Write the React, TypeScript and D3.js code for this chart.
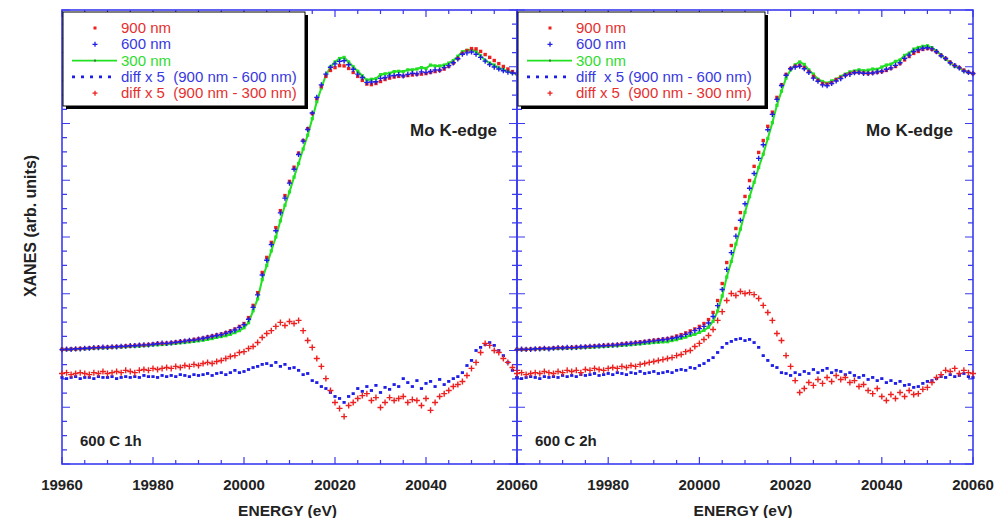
import React from "react";
import * as d3 from "d3";

// energy grid (eV), one point per eV
const energy = d3.range(19960, 20061, 1);

const xTicksMajor = [19960, 19980, 20000, 20020, 20040, 20060];

// ---- panel 1 : 600 C 1h ----
const mu900A = [
  0.4, 0.4, 0.5, 0.5, 0.7, 0.7, 0.9, 0.9, 1.1, 1.1,
  1.2, 1.2, 1.4, 1.4, 1.6, 1.6, 1.8, 1.9, 1.9, 2.1,
  2.3, 2.5, 2.5, 2.6, 2.8, 3.0, 3.2, 3.4, 3.5, 3.9,
  4.1, 4.4, 4.8, 5.1, 5.5, 5.8, 6.3, 6.9, 7.6, 8.5,
  9.5, 11.6, 15.9, 20.4, 27.5, 32.8, 38.1, 43.3, 49.3, 54.6,
  59.6, 64.6, 69.6, 74.0, 78.2, 83.5, 88.8, 93.0, 96.6, 98.7,
  99.7, 100.4, 100.3, 99.4, 98.0, 96.6, 95.2, 93.9, 93.7, 94.1,
  94.8, 95.5, 96.0, 96.4, 96.6, 96.7, 96.9, 97.1, 97.3, 97.4,
  97.6, 98.0, 98.3, 98.7, 99.2, 100.1, 101.3, 102.9, 104.7, 105.7,
  106.4, 106.3, 105.4, 104.3, 103.3, 102.2, 101.1, 100.1, 99.2, 98.3,
  97.6,
];
const mu600A = [
  0.3, 0.5, 0.4, 0.6, 0.6, 0.8, 0.8, 1.0, 1.0, 1.2,
  1.1, 1.3, 1.3, 1.5, 1.5, 1.7, 1.7, 1.9, 2.0, 2.0,
  2.2, 2.4, 2.6, 2.5, 2.7, 2.9, 3.1, 3.3, 3.6, 3.7,
  4.0, 4.3, 4.6, 5.0, 5.3, 5.6, 6.1, 6.6, 7.2, 8.1,
  9.1, 11.0, 15.2, 19.6, 26.6, 31.8, 37.3, 42.2, 48.5, 53.7,
  59.0, 63.9, 69.1, 73.8, 77.9, 83.7, 89.2, 93.6, 97.4, 99.8,
  101.0, 101.9, 102.1, 100.7, 99.1, 97.4, 96.2, 94.5, 94.6, 94.7,
  95.9, 96.2, 96.8, 96.9, 97.2, 96.8, 97.3, 97.7, 97.5, 98.2,
  98.0, 98.3, 98.9, 98.8, 99.7, 100.4, 101.4, 102.8, 104.4, 104.9,
  105.2, 104.4, 103.3, 102.0, 100.8, 99.9, 99.2, 98.6, 98.1, 97.8,
  97.6,
];
const mu300A = [
  0.4, 0.3, 0.5, 0.4, 0.6, 0.6, 0.7, 0.8, 0.9, 0.9,
  1.0, 1.1, 1.2, 1.2, 1.3, 1.4, 1.5, 1.5, 1.7, 1.8,
  1.9, 2.0, 2.1, 2.2, 2.4, 2.5, 2.7, 2.8, 3.0, 3.2,
  3.4, 3.6, 3.9, 4.2, 4.6, 4.9, 5.2, 5.7, 6.3, 7.0,
  8.0, 9.8, 14.0, 18.2, 25.0, 30.0, 35.1, 40.0, 45.7, 51.2,
  55.9, 61.1, 65.9, 71.0, 75.9, 81.7, 87.7, 92.5, 97.0, 99.9,
  101.7, 102.9, 103.3, 101.7, 100.0, 98.4, 96.8, 95.3, 95.6, 95.8,
  97.2, 97.5, 97.7, 98.3, 98.4, 98.3, 98.9, 98.9, 99.2, 99.7,
  99.4, 100.6, 100.3, 100.3, 100.6, 101.3, 102.2, 103.7, 105.3, 105.8,
  106.0, 105.5, 103.9, 102.2, 101.3, 100.6, 99.6, 99.0, 98.4, 97.9,
  97.4,
];
const diff600A = [
  -9.5, -9.9, -9.5, -9.2, -9.9, -9.5, -9.5, -9.9, -9.2, -9.5,
  -9.5, -9.2, -9.9, -9.5, -9.2, -9.5, -9.2, -9.5, -8.8, -9.2,
  -9.2, -9.5, -8.8, -9.2, -8.8, -9.2, -8.5, -8.8, -9.2, -8.5,
  -8.8, -8.5, -8.1, -8.8, -8.1, -7.8, -8.5, -7.8, -7.0, -7.8,
  -7.4, -6.7, -6.0, -5.6, -4.9, -4.6, -5.3, -4.2, -5.6, -4.9,
  -6.3, -6.0, -7.0, -8.5, -8.1, -10.6, -11.3, -12.7, -13.4, -14.8,
  -16.2, -16.9, -18.3, -16.2, -15.2, -13.4, -14.4, -12.7, -14.1, -12.3,
  -14.8, -13.0, -13.7, -12.0, -12.7, -9.9, -11.3, -12.7, -10.6, -13.4,
  -11.6, -10.9, -12.7, -10.2, -12.0, -10.9, -9.9, -9.2, -7.8, -5.3,
  -3.5, 0.0, 1.1, 2.1, 2.8, 1.8, 0.0, -1.8, -4.2, -7.0,
  -9.5,
];
const diff300A = [
  -8.1, -7.8, -8.5, -8.1, -7.8, -8.1, -8.5, -7.8, -8.1, -7.4,
  -8.1, -7.8, -7.4, -7.8, -7.0, -7.4, -7.8, -7.0, -6.7, -7.0,
  -6.3, -6.7, -6.3, -6.0, -6.3, -5.6, -6.0, -5.3, -5.6, -4.9,
  -5.3, -4.6, -4.2, -4.6, -3.9, -3.5, -2.8, -2.1, -1.8, -0.7,
  -0.4, 0.7, 1.4, 2.8, 4.6, 6.0, 7.0, 8.5, 9.9, 8.8,
  10.2, 9.5, 10.6, 7.0, 3.5, 1.1, -2.8, -5.6, -9.9, -14.1,
  -18.3, -20.4, -23.3, -19.4, -18.3, -16.9, -15.9, -15.2, -17.6, -16.6,
  -20.1, -18.3, -16.6, -17.6, -16.9, -16.2, -18.3, -17.3, -17.6, -19.4,
  -16.9, -21.1, -18.3, -16.2, -15.2, -14.1, -12.7, -12.0, -10.9, -8.8,
  -6.3, -4.2, -0.7, 2.5, 1.8, 0.0, -0.7, -2.8, -4.2, -6.0,
  -7.0,
];

// ---- panel 2 : 600 C 2h ----
const mu900B = [
  0.4, 0.4, 0.4, 0.5, 0.5, 0.7, 0.7, 0.7, 0.9, 0.9,
  1.0, 1.0, 1.1, 1.2, 1.2, 1.4, 1.4, 1.6, 1.7, 1.8,
  1.9, 2.0, 2.1, 2.3, 2.5, 2.6, 2.8, 3.0, 3.2, 3.4,
  3.6, 3.8, 4.0, 4.2, 4.6, 5.1, 5.6, 6.2, 6.9, 7.6,
  8.5, 9.5, 10.9, 13.4, 17.6, 23.6, 31.0, 37.0, 43.0, 48.6,
  54.3, 59.9, 64.9, 69.8, 74.0, 79.0, 84.0, 89.2, 93.7, 97.3,
  99.4, 100.2, 100.4, 99.7, 98.3, 96.6, 95.2, 94.1, 93.9, 94.4,
  95.5, 96.2, 97.1, 97.6, 98.0, 98.0, 97.8, 97.6, 97.8, 98.0,
  98.3, 98.7, 99.4, 100.1, 101.1, 102.4, 103.6, 104.7, 105.4, 106.1,
  106.4, 106.1, 105.2, 104.0, 102.9, 101.6, 100.5, 99.7, 98.8, 98.1,
  97.6,
];
const mu600B = [
  0.3, 0.5, 0.4, 0.4, 0.6, 0.6, 0.8, 0.6, 0.8, 1.0,
  0.9, 1.1, 1.0, 1.1, 1.3, 1.3, 1.5, 1.5, 1.6, 1.7,
  1.8, 1.9, 2.0, 2.2, 2.3, 2.5, 2.7, 2.8, 3.0, 3.2,
  3.4, 3.6, 3.8, 4.0, 4.3, 4.6, 5.0, 5.7, 6.2, 7.0,
  7.7, 8.5, 9.7, 12.0, 15.8, 21.5, 28.6, 34.5, 40.3, 45.9,
  51.7, 57.2, 62.4, 67.7, 72.5, 77.8, 83.2, 88.5, 93.4, 97.0,
  99.3, 99.9, 100.2, 99.3, 98.0, 96.0, 94.9, 93.6, 93.3, 94.1,
  95.0, 95.8, 96.9, 97.3, 97.9, 98.0, 97.7, 97.7, 97.8, 98.2,
  98.4, 99.1, 99.6, 100.5, 101.4, 103.0, 104.1, 105.4, 106.0, 106.5,
  106.7, 106.3, 105.3, 103.9, 102.9, 101.4, 100.4, 99.6, 98.5, 98.0,
  97.6,
];
const mu300B = [
  0.4, 0.3, 0.4, 0.4, 0.5, 0.5, 0.6, 0.6, 0.7, 0.7,
  0.8, 0.8, 0.9, 0.9, 1.0, 1.1, 1.1, 1.2, 1.3, 1.4,
  1.5, 1.6, 1.7, 1.8, 1.9, 2.0, 2.2, 2.3, 2.5, 2.6,
  2.8, 2.9, 3.0, 3.1, 3.5, 3.8, 4.3, 4.7, 5.3, 5.7,
  6.4, 7.1, 8.2, 10.3, 13.9, 19.2, 25.9, 31.4, 37.5, 42.8,
  48.7, 54.2, 59.3, 64.5, 69.2, 74.7, 80.3, 86.4, 91.4, 96.0,
  98.9, 100.7, 101.7, 100.8, 98.9, 97.4, 95.6, 94.8, 94.2, 95.0,
  95.6, 96.6, 97.4, 98.2, 98.5, 98.9, 98.6, 98.8, 99.2, 99.1,
  99.9, 100.6, 100.9, 101.9, 102.4, 104.0, 104.8, 106.2, 106.8, 107.2,
  107.4, 106.7, 105.5, 104.1, 102.7, 101.5, 100.1, 99.7, 98.6, 98.0,
  97.6,
];
const diff600B = [
  -9.5, -9.9, -9.5, -9.2, -9.5, -9.9, -9.2, -9.5, -9.2, -9.5,
  -8.8, -9.2, -8.8, -9.2, -8.5, -8.8, -8.5, -8.1, -8.8, -8.5,
  -8.1, -8.5, -7.8, -8.1, -8.5, -7.8, -8.1, -7.4, -8.1, -7.8,
  -7.4, -8.1, -7.8, -7.4, -7.8, -7.0, -6.7, -7.0, -6.0, -6.3,
  -5.3, -4.6, -3.5, -2.5, -0.7, 1.1, 2.5, 3.2, 3.9, 4.2,
  3.5, 3.9, 2.8, 1.1, -1.8, -3.5, -5.3, -6.0, -7.8, -8.1,
  -8.8, -7.8, -8.5, -7.4, -8.1, -6.7, -7.8, -7.0, -6.3, -7.8,
  -7.0, -7.4, -8.5, -7.8, -8.8, -9.5, -8.8, -10.2, -9.5, -10.6,
  -9.9, -11.3, -10.6, -11.6, -10.9, -12.3, -12.0, -13.0, -12.7, -11.6,
  -10.9, -10.6, -9.9, -9.2, -9.5, -8.5, -9.2, -8.8, -8.1, -9.2,
  -9.5,
];
const diff300B = [
  -8.1, -7.8, -8.5, -8.1, -7.8, -8.1, -7.4, -7.8, -8.1, -7.4,
  -7.8, -7.0, -7.4, -7.0, -7.8, -6.7, -7.0, -6.3, -6.7, -7.0,
  -6.3, -6.0, -6.3, -5.6, -6.0, -5.3, -5.6, -4.9, -4.6, -4.2,
  -3.9, -3.5, -3.2, -2.8, -2.5, -1.8, -1.4, -0.4, 0.0, 1.4,
  2.5, 3.9, 5.3, 7.4, 10.6, 13.7, 17.6, 20.1, 19.4, 20.8,
  20.1, 20.4, 19.7, 18.3, 15.9, 13.4, 10.6, 6.0, 3.5, -1.8,
  -5.6, -10.6, -14.8, -13.4, -11.3, -12.3, -10.2, -11.6, -9.5, -10.9,
  -8.8, -10.2, -9.5, -11.3, -10.6, -12.7, -12.0, -14.1, -15.2, -13.4,
  -16.2, -17.6, -15.5, -16.9, -14.8, -16.2, -14.1, -15.5, -15.2, -13.7,
  -13.0, -11.3, -9.5, -8.5, -7.0, -7.4, -6.3, -8.1, -7.0, -7.8,
  -8.1,
];

const legendA = ["900 nm", "600 nm", "300 nm", "diff x 5  (900 nm - 600 nm)", "diff x 5  (900 nm - 300 nm)"];
const legendB = ["900 nm", "600 nm", "300 nm", "diff  x 5 (900 nm - 600 nm)", "diff x 5  (900 nm - 300 nm)"];

const FONT = "'Liberation Sans', Arial, sans-serif";
const AXIS = "#3a3af0";
const RED = "#ee1f1f";
const BLUE = "#1e1ee8";
const GREEN = "#22e022";
const TOP = 10;
const BOTTOM = 464;

const plusPath = (pts: [number, number][], s: number) =>
  pts.map(([x, y]) => `M${x - s},${y}h${2 * s}M${x},${y - s}v${2 * s}`).join("");

function Panel(props: any) {
  const { x0, x1, mu900, mu600, mu300, d600, d300, legend, sample, showFirstLabel, lgRight } = props;
  const x = d3.scaleLinear().domain([19960, 20060]).range([x0, x1]);
  const y = d3.scaleLinear().domain([-40, 120]).range([BOTTOM, TOP]);

  const pts = (vals: number[]) => energy.map((e, i) => [x(e), y(vals[i])] as [number, number]);
  const line = d3.line<[number, number]>();

  const xMinor = d3.range(19960, 20061, 5);
  const yMinor = d3.range(-40, 121, 5);
  const tick: string[] = [];
  xMinor.forEach((v) => {
    const L = v % 20 === 0 ? 7 : 4;
    tick.push(`M${x(v)},${BOTTOM}v${-L}M${x(v)},${TOP}v${L}`);
  });
  yMinor.forEach((v) => {
    const L = v % 20 === 0 ? 8 : 5;
    tick.push(`M${x0},${y(v)}h${L}M${x1},${y(v)}h${-L}`);
  });

  const lx = x0 + 1;
  const symX = x0 + 33;
  const rows = legend.map((_: string, i: number) => 33 + i * 16.3);
  const textColors = ["#e53030", "#3838e0", "#2fdc2f", "#3838e0", "#e53030"];

  return (
    <g>
      <path d={tick.join("")} stroke={AXIS} strokeWidth={1.2} fill="none" />
      <rect x={x0} y={TOP} width={x1 - x0} height={BOTTOM - TOP} fill="none" stroke={AXIS} strokeWidth={1.6} />

      {/* 300 nm line */}
      <path d={line(pts(mu300)) || ""} fill="none" stroke={GREEN} strokeWidth={2} />
      {pts(mu300).map(([px, py], i) => (
        <rect key={"g" + i} x={px - 1.6} y={py - 1.6} width={3.2} height={3.2} fill={GREEN} />
      ))}
      {/* 900 nm */}
      {pts(mu900).map(([px, py], i) => (
        <rect key={"r" + i} x={px - 1.7} y={py - 1.7} width={3.4} height={3.4} fill={RED} />
      ))}
      {/* 600 nm */}
      <path d={plusPath(pts(mu600), 2.6)} stroke={BLUE} strokeWidth={1.4} fill="none" />
      {/* diff 900-600 */}
      {pts(d600).map(([px, py], i) => (
        <rect key={"b" + i} x={px - 1.6} y={py - 1.4} width={3.2} height={2.8} fill={BLUE} />
      ))}
      {/* diff 900-300 */}
      <path d={plusPath(pts(d300), 3)} stroke={RED} strokeWidth={1.4} fill="none" />

      {/* legend */}
      <rect x={lx + 3} y={TOP + 5} width={lgRight - lx} height={94} fill="#000" />
      <rect x={lx} y={TOP + 2} width={lgRight - lx} height={94} fill="#fff" stroke="#000" strokeWidth={1} />
      <rect x={symX - 1.5} y={rows[0] - 6.5} width={3} height={3} fill={RED} />
      <path d={plusPath([[symX, rows[1] - 5]], 2.5)} stroke={BLUE} strokeWidth={1.3} />
      <line x1={symX - 23} x2={symX + 22} y1={rows[2] - 5} y2={rows[2] - 5} stroke={GREEN} strokeWidth={1.6} />
      <rect x={symX - 1} y={rows[2] - 6} width={2} height={2} fill="#3a7a3a" />
      <line x1={symX - 23} x2={symX + 22} y1={rows[3] - 5} y2={rows[3] - 5} stroke={BLUE} strokeWidth={2.6} strokeDasharray="3 6" />
      <path d={plusPath([[symX, rows[4] - 5]], 2.5)} stroke={RED} strokeWidth={1.3} />
      {legend.map((t: string, i: number) => (
        <text key={t + i} x={symX + 26} y={rows[i]} fontSize={15} fill={textColors[i]} style={{ whiteSpace: "pre" }}>
          {t}
        </text>
      ))}

      <text x={x1 - 20} y={136} fontSize={17} fontWeight="bold" textAnchor="end" fill="#222">
        Mo K-edge
      </text>
      <text x={x0 + 18} y={446} fontSize={15} fontWeight="bold" fill="#222">
        {sample}
      </text>

      {xTicksMajor
        .filter((v) => showFirstLabel || v !== 19960)
        .map((v) => (
          <text key={v} x={x(v)} y={490} fontSize={15} fontWeight="bold" textAnchor="middle" fill="#222">
            {v}
          </text>
        ))}
      <text x={(x0 + x1) / 2 - 2} y={516} fontSize={15.5} fontWeight="bold" textAnchor="middle" fill="#222">
        ENERGY (eV)
      </text>
    </g>
  );
}

export default function App() {
  return (
    <svg
      width={1007}
      height={518}
      style={{ position: "absolute", left: 0, top: 0, background: "#fff", fontFamily: FONT }}
    >
      <rect width={1007} height={518} fill="#fff" />
      <text transform="translate(36,226) rotate(-90)" fontSize={16} fontWeight="bold" textAnchor="middle" fill="#222">
        XANES (arb. units)
      </text>
      <Panel
        x0={62}
        x1={517}
        mu900={mu900A}
        mu600={mu600A}
        mu300={mu300A}
        d600={diff600A}
        d300={diff300A}
        legend={legendA}
        sample="600 C 1h"
        showFirstLabel={true}
        lgRight={305}
      />
      <Panel
        x0={517}
        x1={973}
        mu900={mu900B}
        mu600={mu600B}
        mu300={mu300B}
        d600={diff600B}
        d300={diff300B}
        legend={legendB}
        sample="600 C 2h"
        showFirstLabel={false}
        lgRight={765}
      />
    </svg>
  );
}
